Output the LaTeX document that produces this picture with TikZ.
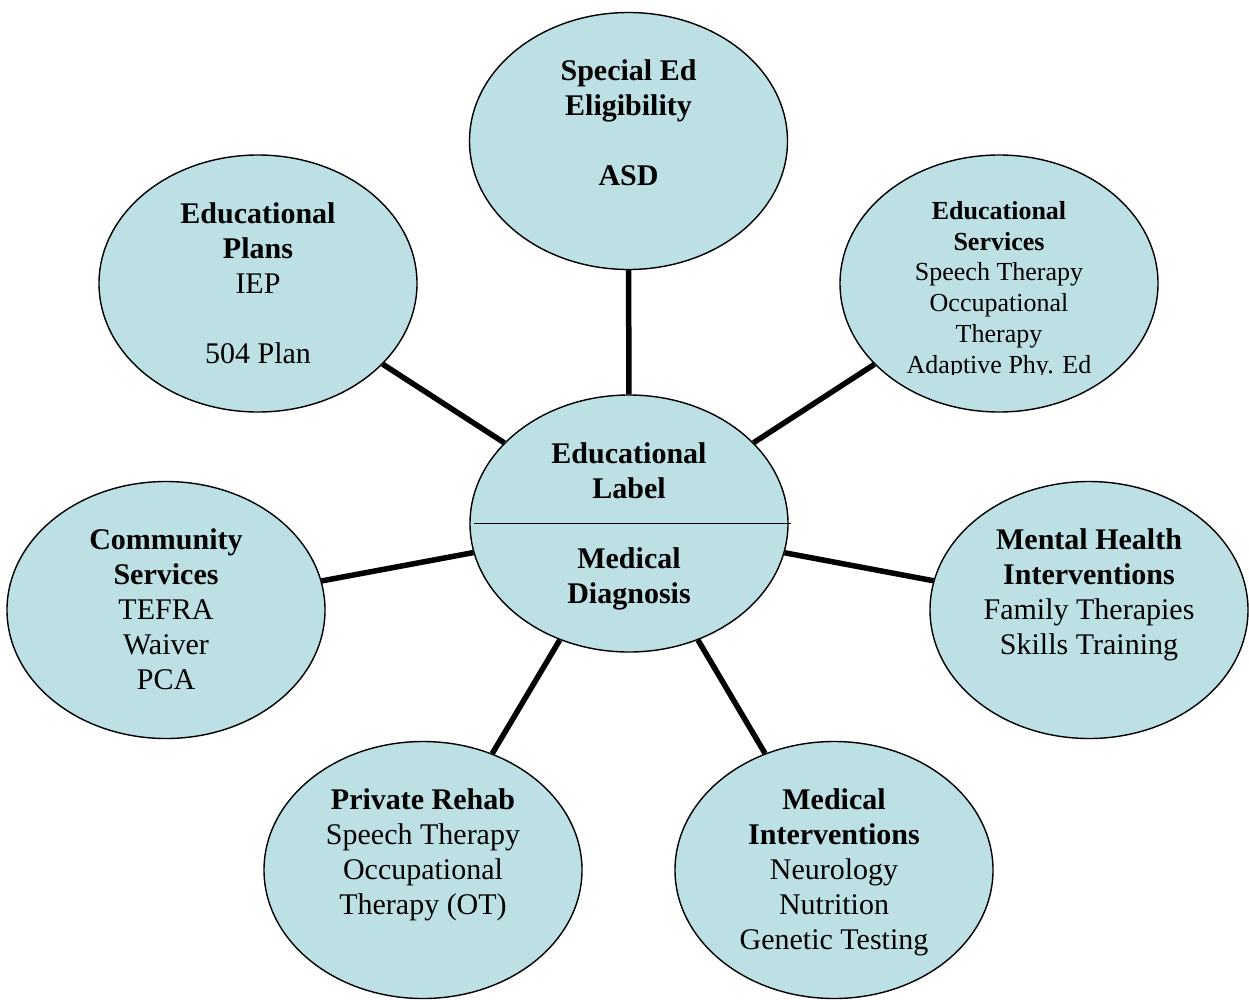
\documentclass[tikz,border=0pt]{standalone}
\usepackage{fontspec}
\setmainfont{Liberation Serif}
\usetikzlibrary{shapes.geometric}
\definecolor{bubblefill}{RGB}{188,224,227}
\begin{document}
\begin{tikzpicture}[x=1pt,y=-1pt,
  bubble/.style={ellipse,draw=black,line width=1.4pt,fill=bubblefill,minimum width=318pt,minimum height=257pt,inner sep=0pt},
  bigtxt/.style={anchor=north,inner sep=0pt,align=center,font=\fontsize{30}{35}\selectfont},
  smalltxt/.style={anchor=north,inner sep=0pt,align=center,font=\fontsize{26}{30.8}\selectfont},
  conn/.style={line width=5.5pt}]
\useasboundingbox (0,0) rectangle (1249,999);
% bubbles
\node[bubble] (ctr)   at (629,523.5) {};
\node[bubble] (sped)  at (628.5,141) {};
\node[bubble] (eplan) at (258,283.5) {};
\node[bubble] (eserv) at (999,283.5) {};
\node[bubble] (comm)  at (166,610) {};
\node[bubble] (mh)    at (1089,610) {};
\node[bubble] (rehab) at (423,870) {};
\node[bubble] (medi)  at (834,870) {};
% connectors
\draw[conn] (ctr) -- (sped);
\draw[conn] (ctr) -- (eplan);
\draw[conn] (ctr) -- (eserv);
\draw[conn] (ctr) -- (comm);
\draw[conn] (ctr) -- (mh);
\draw[conn] (ctr) -- (rehab);
\draw[conn] (ctr) -- (medi);
% divider in centre bubble
\draw[line width=1.8pt] ([xshift=5pt]ctr.west) -- ([xshift=2pt]ctr.east);
% texts
\node[bigtxt] (tctr) at ([yshift=85pt]ctr.center)
  {\strut\textbf{Educational}\\\textbf{Label}\\ \strut\\\textbf{Medical}\\\textbf{Diagnosis}};
\node[bigtxt] (tsped) at ([yshift=85pt]sped.center)
  {\strut\textbf{Special Ed}\\\textbf{Eligibility}\\ \strut\\\textbf{ASD}};
\node[bigtxt] (teplan) at ([yshift=85pt]eplan.center)
  {\strut\textbf{Educational}\\\textbf{Plans}\\IEP\\ \strut\\504 Plan};
\begin{scope}
\clip (830,150) rectangle (1170,374);
\node[smalltxt] (teserv) at ([yshift=86pt]eserv.center)
  {\strut\textbf{Educational}\\\textbf{Services}\\Speech Therapy\\Occupational\\Therapy\\Adaptive Phy. Ed};
\end{scope}
\node[bigtxt] (tcomm) at ([yshift=85pt]comm.center)
  {\strut\textbf{Community}\\\textbf{Services}\\TEFRA\\Waiver\\PCA};
\node[bigtxt] (tmh) at ([yshift=85pt]mh.center)
  {\strut\textbf{Mental Health}\\\textbf{Interventions}\\Family Therapies\\Skills Training};
\node[bigtxt] (trehab) at ([yshift=85pt]rehab.center)
  {\strut\textbf{Private Rehab}\\Speech Therapy\\Occupational\\Therapy (OT)};
\node[bigtxt] (tmedi) at ([yshift=85pt]medi.center)
  {\strut\textbf{Medical}\\\textbf{Interventions}\\Neurology\\Nutrition\\Genetic Testing};
\end{tikzpicture}
\end{document}
